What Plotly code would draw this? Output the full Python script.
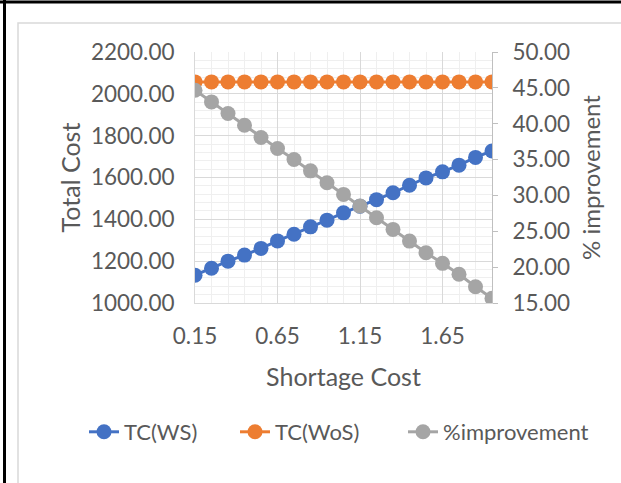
import plotly.graph_objects as go

shortage_cost = [0.15, 0.25, 0.35, 0.45, 0.55, 0.65, 0.75, 0.85, 0.95, 1.05,
                 1.15, 1.25, 1.35, 1.45, 1.55, 1.65, 1.75, 1.85, 1.95]
tc_ws = [1133, 1166, 1200, 1229, 1261, 1297, 1329, 1364, 1396, 1431,
         1463, 1494, 1527, 1563, 1598, 1627, 1659, 1696, 1727]
tc_wos = [2057] * 19
pct_improvement = [44.67, 43.04, 41.42, 39.79, 38.07, 36.54, 35.01, 33.43, 31.76, 30.14,
                   28.51, 26.88, 25.26, 23.63, 22.01, 20.53, 19.00, 17.27, 15.65]
x_tick_vals = [0.15, 0.65, 1.15, 1.65]
x_tick_text = ["0.15", "0.65", "1.15", "1.65"]

FONT = "Lato"
TXT = "#595959"
W, H = 621, 483

fig = go.Figure()
fig.add_trace(go.Scatter(x=shortage_cost, y=tc_ws, name="TC(WS)", mode="lines+markers",
                         legend="legend",
                         line=dict(color="#4472C4", width=3), marker=dict(size=15, color="#4472C4")))
fig.add_trace(go.Scatter(x=shortage_cost, y=tc_wos, name="TC(WoS)", mode="lines+markers",
                         legend="legend2",
                         line=dict(color="#ED7D31", width=3), marker=dict(size=15, color="#ED7D31")))
fig.add_trace(go.Scatter(x=shortage_cost, y=pct_improvement, name="%improvement", mode="lines+markers",
                         yaxis="y2", legend="legend3",
                         line=dict(color="#A5A5A5", width=3), marker=dict(size=15, color="#A5A5A5")))

# frame lines
L = 195; R = 492; T = 52; B = 303
def px(xp): return (xp - L) / (R - L)
def py(yp): return (B - yp) / (B - T)

shapes = [
    dict(type="rect", xref="paper", yref="paper", x0=px(18), x1=px(700), y0=py(23), y1=py(600),
         line=dict(color="#d9d9d9", width=1.5), fillcolor="rgba(0,0,0,0)", layer="below"),
    dict(type="line", xref="paper", yref="paper", x0=px(0), x1=px(W), y0=py(2), y1=py(2),
         line=dict(color="black", width=3)),
    dict(type="line", xref="paper", yref="paper", x0=px(4.5), x1=px(4.5), y0=py(0), y1=py(H),
         line=dict(color="black", width=3)),
]

def leg(xpix):
    return dict(orientation="h", xref="container", yref="container",
                x=xpix / W, xanchor="left", y=1 - 432 / H, yanchor="middle",
                font=dict(family=FONT, size=22, color=TXT),
                bgcolor="rgba(0,0,0,0)", borderwidth=0)

fig.update_layout(
    width=W, height=H,
    margin=dict(l=L, r=W - R, t=T, b=H - B, autoexpand=False),
    paper_bgcolor="white", plot_bgcolor="white",
    font=dict(family=FONT, color=TXT, size=22),
    showlegend=True,
    legend=leg(84), legend2=leg(235), legend3=leg(403),
    shapes=shapes,
    xaxis=dict(range=[0.15, 1.95], tickvals=x_tick_vals, ticktext=x_tick_text,
               showgrid=True, gridcolor="#d9d9d9", gridwidth=1,
               minor=dict(dtick=0.1, tick0=0.15, showgrid=True, gridcolor="#efefef", gridwidth=1),
               showline=True, linecolor="#d9d9d9", linewidth=1, zeroline=False,
               ticks="", ticklabelstandoff=13, automargin=False,
               tickfont=dict(size=22.5, color=TXT),
               title=dict(text="Shortage Cost", font=dict(size=25, color=TXT), standoff=20)),
    yaxis=dict(range=[1000, 2200], dtick=200, tickformat=".2f",
               showgrid=True, gridcolor="#d9d9d9", gridwidth=1,
               minor=dict(dtick=40, showgrid=True, gridcolor="#efefef", gridwidth=1),
               showline=True, linecolor="#d9d9d9", zeroline=False,
               ticks="", ticklabelstandoff=15, automargin=False,
               tickfont=dict(size=22.5, color=TXT),
               title=dict(text="Total Cost", font=dict(size=25, color=TXT), standoff=3)),
    yaxis2=dict(range=[15, 50], dtick=5, tickformat=".2f", overlaying="y", side="right",
                showgrid=False, zeroline=False, showline=True, linecolor="#bfbfbf", linewidth=1,
                ticks="outside", ticklen=5, tickcolor="#bfbfbf", ticklabelstandoff=10,
                automargin=False,
                tickfont=dict(size=22.5, color=TXT),
                title=dict(text="% improvement", font=dict(size=24, color=TXT), standoff=14)),
)

fig.write_html("out.html", config={"displayModeBar": False},
               post_script="document.body.style.margin='0';")
